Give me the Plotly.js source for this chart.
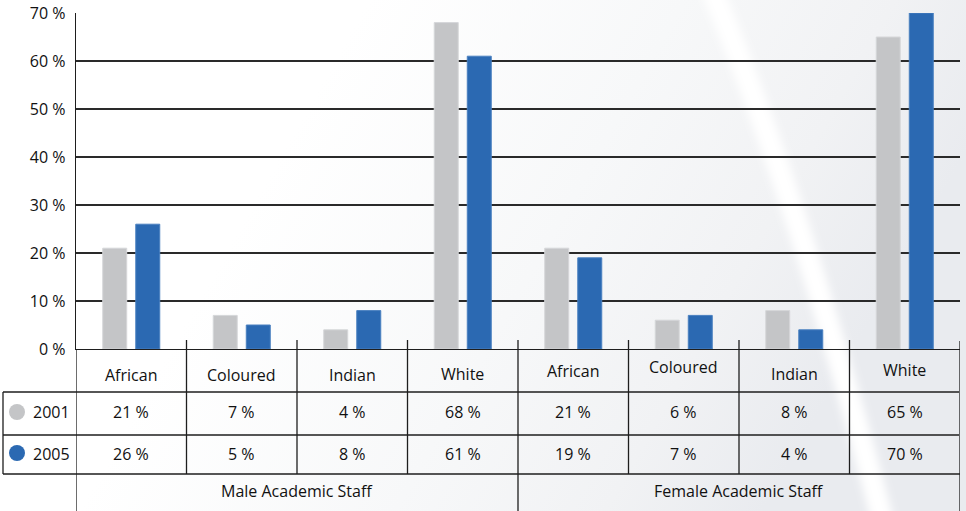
<!DOCTYPE html>
<html>
<head>
<meta charset="utf-8">
<script src="https://cdn.plot.ly/plotly-3.0.1.min.js"></script>
<style>html,body{margin:0;padding:0;background:#fff;}#chart{width:966px;height:511px;}</style>
</head>
<body>
<div id="chart"></div>
<script>
// ---- data ----
var groups = ["Male Academic Staff", "Female Academic Staff"];
var races = ["African", "Coloured", "Indian", "White"];
var seriesNames = ["2001", "2005"];
var male2001 = [21, 7, 4, 68];
var male2005 = [26, 5, 8, 61];
var female2001 = [21, 6, 8, 65];
var female2005 = [19, 7, 4, 70];
var yTicks = [0, 10, 20, 30, 40, 50, 60, 70];

// ---- build ----
var keys = [], labels = [], v2001 = [], v2005 = [];
groups.forEach(function (g, gi) {
  races.forEach(function (r, ri) {
    keys.push(g + " / " + r);
    labels.push(r);
    v2001.push(gi === 0 ? male2001[ri] : female2001[ri]);
    v2005.push(gi === 0 ? male2005[ri] : female2005[ri]);
  });
});
var colors = ["#c4c5c7", "#2b69b2"];
var lineCol = "#1e1e1e";
var FONT = "Open Sans, Noto Sans, sans-serif";

// pixel helpers (plot area: x 76..960, y 13..349)
var L = 76, R = 960, T = 13, B = 349;
function py(p) { return (B - p) / (B - T); }
function px(p) { return (p - L) / (R - L); }

var traces = [
  {type: "bar", name: seriesNames[0], x: keys, y: v2001, width: 0.217, offset: -0.258,
   marker: {color: colors[0], line: {color: "#d6d7d9", width: 1}}, hoverinfo: "x+y"},
  {type: "bar", name: seriesNames[1], x: keys, y: v2005, width: 0.217, offset: 0.041,
   marker: {color: colors[1], line: {color: "#4a80c0", width: 1}}, hoverinfo: "x+y"}
];

var shapes = [];
function vline(x, y0, y1, xref) {
  shapes.push({type: "line", xref: xref || "x", yref: "paper", x0: x, x1: x, y0: y0, y1: y1,
               line: {color: lineCol, width: 1.3}});
}
function hline(y, x0, x1) {
  shapes.push({type: "line", xref: "paper", yref: "paper", x0: x0, x1: x1, y0: y, y1: y,
               line: {color: lineCol, width: 1.3}});
}
// category separators
[0.5, 1.5, 2.5, 4.5, 5.5, 6.5].forEach(function (b) { vline(b, py(340), py(474)); });
vline(3.5, py(340), py(511));
vline(7.5, py(341), py(511));
vline(-0.5, py(349), py(511));
vline(px(3), py(392), py(474), "paper");
hline(py(392), px(3), px(959));
hline(py(435), px(3), px(959));
hline(py(474), px(3), px(960));

// legend circles
seriesNames.forEach(function (s, i) {
  var cy = i === 0 ? 412 : 453;
  shapes.push({type: "circle", xref: "paper", yref: "paper", xsizemode: "pixel", ysizemode: "pixel",
               xanchor: px(17), yanchor: py(cy), x0: -8, x1: 8, y0: -8, y1: 8,
               fillcolor: colors[i], line: {width: 0}});
});

var annotations = [];
var fnt = {family: FONT, size: 16, color: "#111"};
var headerDy = [0, 0, 0, 1, 4, 8, 1, 5];
labels.forEach(function (lab, i) {
  annotations.push({xref: "x", yref: "paper", x: i, y: py(375 - headerDy[i]), text: lab,
                    showarrow: false, font: fnt, xanchor: "center", yanchor: "middle"});
  annotations.push({xref: "x", yref: "paper", x: i, y: py(412), text: v2001[i] + " %",
                    showarrow: false, font: fnt, xanchor: "center", yanchor: "middle"});
  annotations.push({xref: "x", yref: "paper", x: i, y: py(454), text: v2005[i] + " %",
                    showarrow: false, font: fnt, xanchor: "center", yanchor: "middle"});
});
seriesNames.forEach(function (s, i) {
  annotations.push({xref: "paper", yref: "paper", x: px(31), y: py(i === 0 ? 412 : 454), text: s,
                    showarrow: false, font: fnt, xanchor: "left", yanchor: "middle"});
});
groups.forEach(function (g, gi) {
  annotations.push({xref: "x", yref: "paper", x: gi * 4 + 1.5, y: py(491), text: g,
                    showarrow: false, font: fnt, xanchor: "center", yanchor: "middle"});
});

// subtle background gradient
var svg = '<svg xmlns="http://www.w3.org/2000/svg" width="966" height="511" viewBox="0 0 966 511">' +
  '<defs><linearGradient id="g" x1="0" y1="0" x2="1" y2="0.3">' +
  '<stop offset="0" stop-color="#ffffff"/><stop offset="0.35" stop-color="#ffffff"/>' +
  '<stop offset="0.65" stop-color="#f7f8f9"/><stop offset="0.85" stop-color="#f1f2f4"/>' +
  '<stop offset="1" stop-color="#e9ebef"/></linearGradient>' +
  '<filter id="b" x="-20%" y="-20%" width="140%" height="140%"><feGaussianBlur stdDeviation="4"/></filter></defs>' +
  '<rect width="966" height="511" fill="url(#g)"/>' +
  '<path d="M712 -10 Q 800 200 885 530" stroke="#ffffff" stroke-width="22" fill="none" filter="url(#b)"/>' +
  '</svg>';
var bgImg = "data:image/svg+xml;base64," + btoa(svg);

var layout = {
  width: 966, height: 511,
  margin: {l: L, r: 966 - R, t: T, b: 511 - B, pad: 0},
  paper_bgcolor: "rgba(0,0,0,0)", plot_bgcolor: "rgba(0,0,0,0)",
  showlegend: false,
  barmode: "group",
  font: {family: FONT, size: 16, color: "#111"},
  xaxis: {type: "category", range: [-0.5, 7.5], showticklabels: false, ticks: "",
          showgrid: false, zeroline: false, showline: true, linecolor: lineCol, linewidth: 1.3, fixedrange: true},
  yaxis: {range: [0, 70], tickvals: yTicks, ticktext: yTicks.map(function (v) { return v + " %"; }),
          showgrid: true, gridcolor: "#2a2a2a", gridwidth: 1.3, zeroline: false,
          showline: true, linecolor: lineCol, linewidth: 1.3, ticks: "", ticklabelstandoff: 6,
          tickfont: {family: FONT, size: 16, color: "#111"}, fixedrange: true},
  shapes: shapes,
  annotations: annotations,
  images: [{source: bgImg, xref: "paper", yref: "paper", x: px(0), y: py(0), sizex: 966 / (R - L),
            sizey: 511 / (B - T), xanchor: "left", yanchor: "top", sizing: "stretch", layer: "below"}]
};

Plotly.newPlot("chart", traces, layout, {displayModeBar: false, staticPlot: true});
</script>
</body>
</html>
